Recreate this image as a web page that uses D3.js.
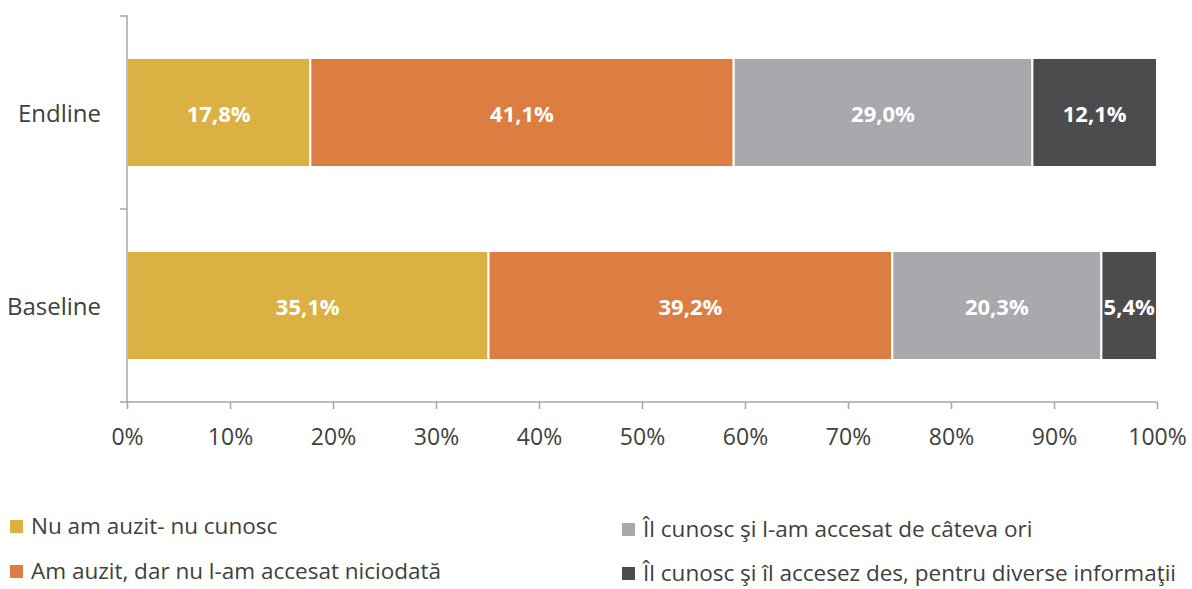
<!DOCTYPE html>
<html>
<head>
<meta charset="utf-8">
<script src="https://cdn.jsdelivr.net/npm/d3@7"></script>
<style>
  body { margin: 0; background: #fff; }
  text { font-family: "Open Sans", "Noto Sans", sans-serif; }
</style>
</head>
<body>
<div id="chart"></div>
<script>
var categories = ["Endline", "Baseline"];
var seriesNames = [
    "Nu am auzit- nu cunosc",
    "Am auzit, dar nu l-am accesat niciodată",
    "Îl cunosc şi l-am accesat de câteva ori",
    "Îl cunosc şi îl accesez des, pentru diverse informaţii"
];
var seriesColors = ["#DBB143", "#DC7D41", "#A8A9AD", "#4C4C4E"];
var endlineValues = [17.8, 41.1, 29.0, 12.1];
var baselineValues = [35.1, 39.2, 20.3, 5.4];
var xTicks = [0, 10, 20, 30, 40, 50, 60, 70, 80, 90, 100];

function init(){
    var w = 1192, h = 589;
    var left = 127, right = 1157, top = 16, bottom = 402;

    var svg = d3.select("#chart").append("svg")
        .attr("width", w)
        .attr("height", h);

    var x = d3.scaleLinear().domain([0, 100]).range([left, right]);
    var y = d3.scaleBand().domain(categories).range([top, bottom])
        .paddingInner(0.435).paddingOuter(0.2175);

    var rows = [endlineValues, baselineValues];
    var segs = [];
    rows.forEach(function(vals, r){
        var acc = 0;
        vals.forEach(function(v, i){
            segs.push({cat: categories[r], x0: acc, x1: acc + v, v: v, i: i});
            acc += v;
        });
    });

    svg.selectAll("rect.seg")
        .data(segs)
        .enter()
        .append("rect")
        .attr("class", "seg")
        .attr("x", function(d){ return x(d.x0); })
        .attr("y", function(d){ return y(d.cat); })
        .attr("width", function(d){ return x(d.x1) - x(d.x0); })
        .attr("height", y.bandwidth())
        .attr("fill", function(d){ return seriesColors[d.i]; })
        .attr("stroke", "#fff")
        .attr("stroke-width", 2);

    svg.selectAll("text.lbl")
        .data(segs)
        .enter()
        .append("text")
        .attr("class", "lbl")
        .attr("x", function(d){ return (x(d.x0) + x(d.x1)) / 2; })
        .attr("y", function(d){ return y(d.cat) + y.bandwidth() / 2; })
        .attr("dy", "0.45em")
        .attr("text-anchor", "middle")
        .attr("fill", "#fff")
        .attr("font-weight", "bold")
        .attr("font-size", 22)
        .text(function(d){ return d.v.toFixed(1).replace(".", ",") + "%"; });

    // x axis
    var xAxis = svg.append("g")
        .attr("transform", "translate(0," + bottom + ")")
        .call(d3.axisBottom(x).tickValues(xTicks).tickSize(7).tickPadding(20)
            .tickFormat(function(d){ return d + "%"; }));
    xAxis.select(".domain").attr("stroke", "#A6A6A6").attr("stroke-width", 1.5)
        .attr("d", "M" + (left - 7) + ",0H" + right);
    xAxis.selectAll(".tick line").attr("stroke", "#A6A6A6").attr("stroke-width", 1.5);
    xAxis.selectAll(".tick text").attr("font-size", 23).attr("fill", "#404040");

    // y axis
    var yAxis = svg.append("g")
        .attr("transform", "translate(" + left + ",0)")
        .call(d3.axisLeft(y).tickSize(0).tickPadding(26));
    yAxis.select(".domain").attr("stroke", "#A6A6A6").attr("stroke-width", 1.5)
        .attr("d", "M-7," + top + "H0V" + bottom);
    yAxis.selectAll(".tick text").attr("font-size", 24).attr("fill", "#404040")
        .attr("dy", "0.4em");
    var mid = (top + bottom) / 2;
    yAxis.append("line").attr("x1", -7).attr("x2", 0).attr("y1", mid).attr("y2", mid)
        .attr("stroke", "#A6A6A6").attr("stroke-width", 1.5);

    // legend
    var legPos = [[10, 527], [10, 572], [622, 530], [622, 574]];
    var leg = svg.selectAll("g.leg")
        .data(seriesNames)
        .enter()
        .append("g")
        .attr("class", "leg")
        .attr("transform", function(d, i){ return "translate(" + legPos[i][0] + "," + legPos[i][1] + ")"; });
    leg.append("rect")
        .attr("x", 0).attr("y", -7).attr("width", 13).attr("height", 13)
        .attr("fill", function(d, i){ return seriesColors[i]; });
    leg.append("text")
        .attr("x", 21)
        .attr("dy", "0.33em")
        .attr("font-size", 22.5)
        .attr("fill", "#404040")
        .text(function(d){ return d; });
}

window.onload = init;
</script>
</body>
</html>
